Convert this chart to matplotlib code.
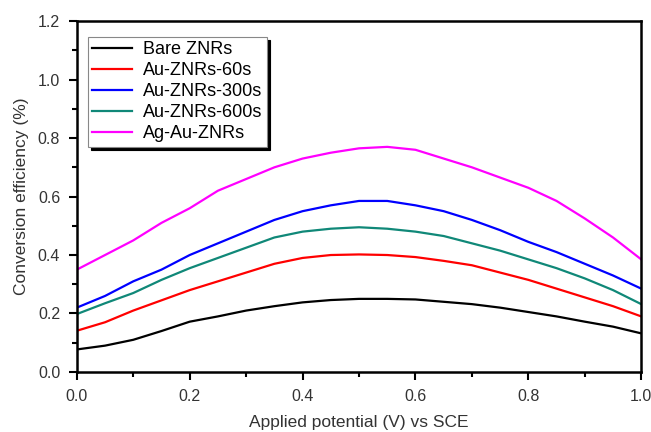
import matplotlib
matplotlib.use("Agg")
import matplotlib.pyplot as plt
from matplotlib.ticker import MultipleLocator

plt.rcParams['font.family'] = ['Liberation Sans', 'DejaVu Sans']

potential = [0.00, 0.05, 0.10, 0.15, 0.20, 0.25, 0.30, 0.35, 0.40, 0.45, 0.50,
             0.55, 0.60, 0.65, 0.70, 0.75, 0.80, 0.85, 0.90, 0.95, 1.00]

bare = [0.077, 0.090, 0.110, 0.140, 0.172, 0.190, 0.210, 0.225, 0.238, 0.246, 0.250,
        0.250, 0.248, 0.240, 0.232, 0.220, 0.205, 0.190, 0.172, 0.155, 0.132]
au60 = [0.141, 0.170, 0.210, 0.245, 0.280, 0.310, 0.340, 0.370, 0.390, 0.400, 0.402,
        0.400, 0.393, 0.380, 0.365, 0.340, 0.315, 0.285, 0.255, 0.225, 0.190]
au300 = [0.220, 0.260, 0.310, 0.350, 0.400, 0.440, 0.480, 0.520, 0.550, 0.570, 0.585,
         0.585, 0.570, 0.550, 0.520, 0.485, 0.445, 0.410, 0.370, 0.330, 0.285]
au600 = [0.198, 0.235, 0.270, 0.315, 0.355, 0.390, 0.425, 0.460, 0.480, 0.490, 0.495,
         0.490, 0.480, 0.465, 0.440, 0.415, 0.385, 0.355, 0.320, 0.280, 0.232]
agau = [0.350, 0.400, 0.450, 0.510, 0.560, 0.620, 0.660, 0.700, 0.730, 0.750, 0.765,
        0.770, 0.760, 0.730, 0.700, 0.665, 0.630, 0.585, 0.525, 0.460, 0.385]

labels = ['Bare ZNRs', 'Au-ZNRs-60s', 'Au-ZNRs-300s', 'Au-ZNRs-600s', 'Ag-Au-ZNRs']
colors = ['#000000', '#ff0000', '#0000ff', '#108878', '#ff00ff']
series = [bare, au60, au300, au600, agau]

fig = plt.figure(figsize=(6.51, 4.32), dpi=100)
ax = fig.add_axes([0.118, 0.139, 0.867, 0.812])

for y, c, lab in zip(series, colors, labels):
    ax.plot(potential, y, color=c, lw=1.6, label=lab)

ax.set_xlim(0, 1.0)
ax.set_ylim(0, 1.2)
ax.xaxis.set_major_locator(MultipleLocator(0.2))
ax.xaxis.set_minor_locator(MultipleLocator(0.1))
ax.yaxis.set_major_locator(MultipleLocator(0.2))
ax.yaxis.set_minor_locator(MultipleLocator(0.1))
ax.tick_params(which='major', direction='out', length=6, width=1.5, labelsize=11.5,
               top=False, right=False, pad=6, labelcolor='#333333')
ax.tick_params(which='minor', direction='out', length=3.5, width=1.5, top=False, right=False)
for s in ax.spines.values():
    s.set_linewidth(1.8)

ax.set_xlabel('Applied potential (V) vs SCE', fontsize=12.5, color='#333333', labelpad=8)
ax.set_ylabel('Conversion efficiency (%)', fontsize=12.5, color='#333333', labelpad=6)

leg = ax.legend(loc='upper left', bbox_to_anchor=(0.0195, 0.955), fontsize=13,
                frameon=True, fancybox=False, shadow={'color': 'black', 'alpha': 1.0},
                handlelength=2.2, borderpad=0.25, labelspacing=0.22, handletextpad=0.6,
                borderaxespad=0.0)
leg.get_frame().set_edgecolor('#888888')
leg.get_frame().set_linewidth(0.8)

fig.savefig('out.png', dpi=100)
